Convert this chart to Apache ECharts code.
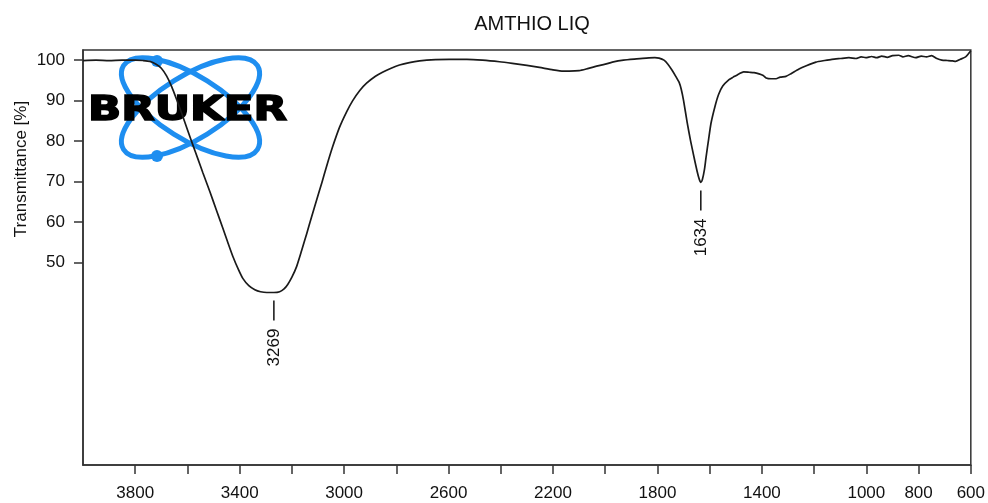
<!DOCTYPE html>
<html>
<head>
<meta charset="utf-8">
<script src="https://cdn.jsdelivr.net/npm/echarts@6/dist/echarts.min.js"></script>
<style>html,body{margin:0;padding:0;background:#fff}#c{width:988px;height:503px}</style>
</head>
<body>
<div id="c"></div>
<script>
const chartTitle = 'AMTHIO LIQ';
const yAxisName = 'Transmittance [%]';
const wavenumbers = [4000,3950,3900,3850,3800,3770,3744,3720,3700,3680,3660,3641,3620,3600,3579,3560,3541,3514,3490,3465,3445,3426,3405,3388,3365,3342,3320,3296,3269,3247,3230,3216,3200,3182,3163,3143,3125,3105,3085,3067,3045,3017,2990,2967,2940,2914,2880,2853,2820,2788,2750,2711,2650,2597,2530,2470,2405,2356,2300,2252,2200,2160,2138,2100,2073,2040,2000,1973,1930,1880,1843,1810,1794,1775,1760,1744,1730,1717,1709,1700,1686,1673,1660,1648,1640,1634,1628,1620,1614,1604,1595,1580,1566,1550,1526,1510,1488,1470,1449,1430,1411,1395,1384,1365,1346,1330,1308,1290,1258,1230,1193,1160,1132,1100,1067,1040,1020,1002,980,960,941,920,900,876,860,840,811,790,770,750,730,711,690,670,658,640,620,610,600];
const transmittance = [99.9,100.0,99.9,100.0,100.0,99.9,99.7,99.0,98.0,96.1,93.4,90.2,86.5,82.8,79.0,75.6,72.2,67.5,63.1,58.6,54.9,51.5,48.3,46.1,44.3,43.3,42.8,42.6,42.6,42.8,43.5,44.6,46.4,49.0,52.9,57.2,61.2,65.5,69.8,73.8,78.4,83.5,87.3,90.0,92.5,94.3,96.0,97.0,98.0,98.8,99.4,99.8,100.1,100.2,100.2,100.0,99.6,99.2,98.7,98.2,97.6,97.3,97.3,97.4,97.8,98.4,99.0,99.5,100.0,100.3,100.5,100.6,100.5,100.0,99.0,97.5,96.0,94.5,92.8,90.0,84.5,80.0,76.0,72.5,70.6,69.8,70.5,73.0,76.0,80.5,84.4,88.5,91.5,93.6,95.2,95.8,96.6,97.1,97.0,96.9,96.6,96.2,95.6,95.4,95.4,95.8,96.0,96.6,97.8,98.6,99.5,99.9,100.2,100.4,100.6,100.4,100.8,100.6,100.9,100.6,101.0,100.7,101.1,101.2,100.8,101.1,100.6,101.0,100.8,101.1,100.4,100.0,99.9,99.8,99.7,100.2,100.8,101.5,102.3];
const xTickValues = [600,800,1000,1200,1400,1600,1800,2000,2200,2400,2600,2800,3000,3200,3400,3600,3800];
const xLabelValues = [3800,3400,3000,2600,2200,1800,1400,1000,800,600];
const yLabelValues = [50,60,70,80,90,100];
const peakPositions = [3269,1634];
const peakValues = [42.6,69.8];

const FONT = 'Liberation Sans, Arial, sans-serif';
const chart = echarts.init(document.getElementById('c'), null, {renderer:'canvas'});
const seriesData = wavenumbers.map((w,i)=>[w, transmittance[i]]);

const logoBlue = '#1e8ef0';
const logo = [
  {type:'ellipse', x:190.5, y:107.5, rotation:0.56, shape:{cx:0,cy:0,rx:79,ry:31.5}, style:{fill:null, stroke:logoBlue, lineWidth:5}, z:0, silent:true},
  {type:'ellipse', x:190.5, y:107.5, rotation:-0.56, shape:{cx:0,cy:0,rx:79,ry:31.5}, style:{fill:null, stroke:logoBlue, lineWidth:5}, z:0, silent:true},
  {type:'circle', shape:{cx:157, cy:61, r:6}, style:{fill:logoBlue}, z:0, silent:true},
  {type:'circle', shape:{cx:157, cy:156, r:6}, style:{fill:logoBlue}, z:0, silent:true},
  {type:'text', x:88, y:111, scaleX:1.28, style:{text:'BRUKER', x:0, y:0, fill:'#000', stroke:'#000', lineWidth:1.6, font:'bold 34px "DejaVu Sans"', textAlign:'left', textVerticalAlign:'middle'}, z:0, silent:true},
  {type:'text', x:532, y:24, style:{text:chartTitle, fill:'#111', font:'20px '+FONT, textAlign:'center', textVerticalAlign:'middle'}, silent:true},
  {type:'text', x:21, y:169, rotation:Math.PI/2, style:{text:yAxisName, fill:'#111', font:'17px '+FONT, textAlign:'center', textVerticalAlign:'middle'}, silent:true}
];

chart.setOption({
  animation:false,
  backgroundColor:'#fff',
  grid:{left:83, right:16, top:50, bottom:38, show:true, borderColor:'#333', borderWidth:1.5, backgroundColor:'transparent'},
  xAxis:{type:'value', inverse:true, min:600, max:4000,
    axisLine:{show:true, onZero:false, lineStyle:{color:'#333', width:1.5}},
    axisTick:{show:true, length:9, customValues:xTickValues, lineStyle:{color:'#333', width:1.5}},
    axisLabel:{show:true, customValues:xLabelValues, formatter:v=>String(v), margin:20, color:'#111', fontSize:17, fontFamily:FONT},
    splitLine:{show:false}},
  yAxis:{type:'value', min:0, max:102.5,
    axisLine:{show:true, onZero:false, lineStyle:{color:'#333', width:1.5}},
    axisTick:{show:true, length:9, customValues:yLabelValues, lineStyle:{color:'#333', width:1.5}},
    axisLabel:{show:true, customValues:yLabelValues, formatter:v=>String(v), margin:18, color:'#111', fontSize:17, fontFamily:FONT},
    splitLine:{show:false}},
  graphic:logo,
  series:[{type:'line', data:seriesData, showSymbol:false, symbol:'none', smooth:0.2, z:5,
    lineStyle:{color:'#1a1a1a', width:1.7}}]
});

const extra = [];
peakPositions.forEach((w,i)=>{
  const p = chart.convertToPixel({gridIndex:0}, [w, peakValues[i]]);
  extra.push({type:'line', shape:{x1:p[0], y1:p[1]+8, x2:p[0], y2:p[1]+28}, style:{stroke:'#111', lineWidth:1.5}, silent:true});
  extra.push({type:'text', x:p[0], y:p[1]+55, rotation:Math.PI/2, style:{text:String(w), fill:'#111', font:'17px '+FONT, textAlign:'center', textVerticalAlign:'middle'}, silent:true});
});
chart.setOption({graphic:logo.concat(extra)});
</script>
</body>
</html>
